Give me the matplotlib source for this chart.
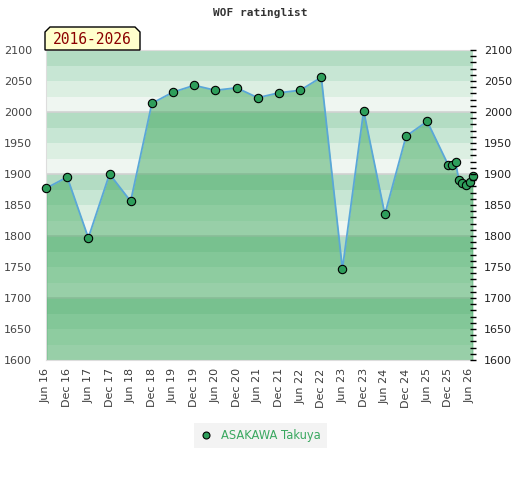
import matplotlib
matplotlib.use("Agg")
import matplotlib.pyplot as plt
import matplotlib.dates as mdates
from matplotlib.patches import Polygon
from matplotlib.lines import Line2D
from datetime import date

# rating list dates and values
dates = ["2016-06", "2016-12", "2017-06", "2017-12", "2018-06", "2018-12",
         "2019-06", "2019-12", "2020-06", "2020-12", "2021-06", "2021-12",
         "2022-06", "2022-12", "2023-06", "2023-12", "2024-06", "2024-12",
         "2025-06", "2025-12", "2026-01", "2026-02", "2026-03", "2026-04",
         "2026-05", "2026-06", "2026-07"]
ratings = [1877, 1895, 1797, 1900, 1856, 2014, 2032, 2043, 2035, 2039,
           2023, 2031, 2035, 2056, 1747, 2002, 1835, 1961, 1985, 1914,
           1914, 1919, 1890, 1886, 1882, 1887, 1896]
player = "ASAKAWA Takuya"
period = "2016-2026"
title = "WOF ratinglist"
ymin, ymax = 1600, 2100
band_colors = ["#b3dcc3", "#c7e6d4", "#dcefe2", "#eff6f1"]  # top to bottom in each 100

x = [date(int(d[:4]), int(d[5:]), 1) for d in dates]

fig = plt.figure(figsize=(5.2, 4.8), dpi=100)
ax = fig.add_axes([46 / 520, 1 - 360 / 480, 427 / 520, 310 / 480])

# background bands
for base in range(ymin, ymax, 100):
    for i, c in enumerate(band_colors):
        top = base + 100 - 25 * i
        ax.axhspan(top - 25, top, color=c, lw=0, zorder=0)
    if base > ymin:
        ax.axhline(base, color="#d2d2d2", lw=1.2, zorder=1)

ax.fill_between(x, ratings, ymin, color=(51 / 255, 163 / 255, 83 / 255),
                alpha=0.46, lw=0, zorder=2)
ax.plot([x[0], x[0]], [ymin, ratings[0]], color="#2e9e5b", lw=1, zorder=2)
ax.plot([x[-1], x[-1]], [ymin, ratings[-1]], color="#2e9e5b", lw=1, zorder=2)
ax.plot(x, ratings, color="#5aa7d8", lw=1.3, zorder=3)
ax.plot(x, ratings, ls="none", marker="o", ms=6, mfc="#2e9e5b",
        mec="black", mew=0.8, zorder=4, clip_on=False)

ax.set_xlim(x[0], x[-1])
ax.set_ylim(ymin, ymax)

ticks = [date(y, m, 1) for y in range(2016, 2027) for m in (6, 12)][:-1]
ax.set_xticks(ticks)
ax.xaxis.set_major_formatter(mdates.DateFormatter("%b %y"))
ax.tick_params(axis="x", rotation=90, length=0, labelsize=8, colors="#3c3c3c", pad=6)
ax.set_yticks(range(ymin, ymax + 1, 50))
ax.tick_params(axis="y", length=0, labelsize=8, colors="#444444", pad=10)

for s in ["left", "bottom", "top"]:
    ax.spines[s].set_color("#dddddd")
ax.spines["right"].set_visible(False)

ax2 = ax.twinx()
ax2.set_ylim(ymin, ymax)
ax2.set_yticks(range(ymin, ymax + 1, 50))
ax2.set_yticks(range(ymin, ymax + 1, 10), minor=True)
ax2.tick_params(axis="y", which="both", direction="inout", length=4,
                width=1, color="black", labelsize=8, labelcolor="#222222", pad=6)
for s in ax2.spines.values():
    s.set_visible(False)

fig.text(0.5, 1 - 13 / 480, title, ha="center", va="center",
         family="DejaVu Sans Mono", fontsize=8, weight="bold", color="#333333")

pts = [(45, 50), (45, 32), (50, 27), (135, 27), (140, 32), (140, 50)]
fig.patches.append(Polygon([(px / 520, 1 - py / 480) for px, py in pts],
                           closed=True, facecolor="#ffffcc", edgecolor="black",
                           lw=1, transform=fig.transFigure, zorder=5))
fig.text(92.5 / 520, 1 - 39.5 / 480, period, ha="center", va="center",
         family="DejaVu Sans Mono", fontsize=10.5, color="#8b0000", zorder=6)

handle = Line2D([], [], ls="none", marker="o", ms=5, mfc="#2e9e5b", mec="black", mew=0.8)
leg = fig.legend([handle], [player], loc="center", bbox_to_anchor=(260.5 / 520, 1 - 435.5 / 480),
                 frameon=True, fancybox=False, facecolor="#f0f0f0", edgecolor="#f0f0f0",
                 fontsize=8.3, labelcolor="#3aa860", handlelength=1, handletextpad=0.8,
                 borderpad=0.5)
leg.get_frame().set_linewidth(0)

fig.savefig("out.png", dpi=100)
